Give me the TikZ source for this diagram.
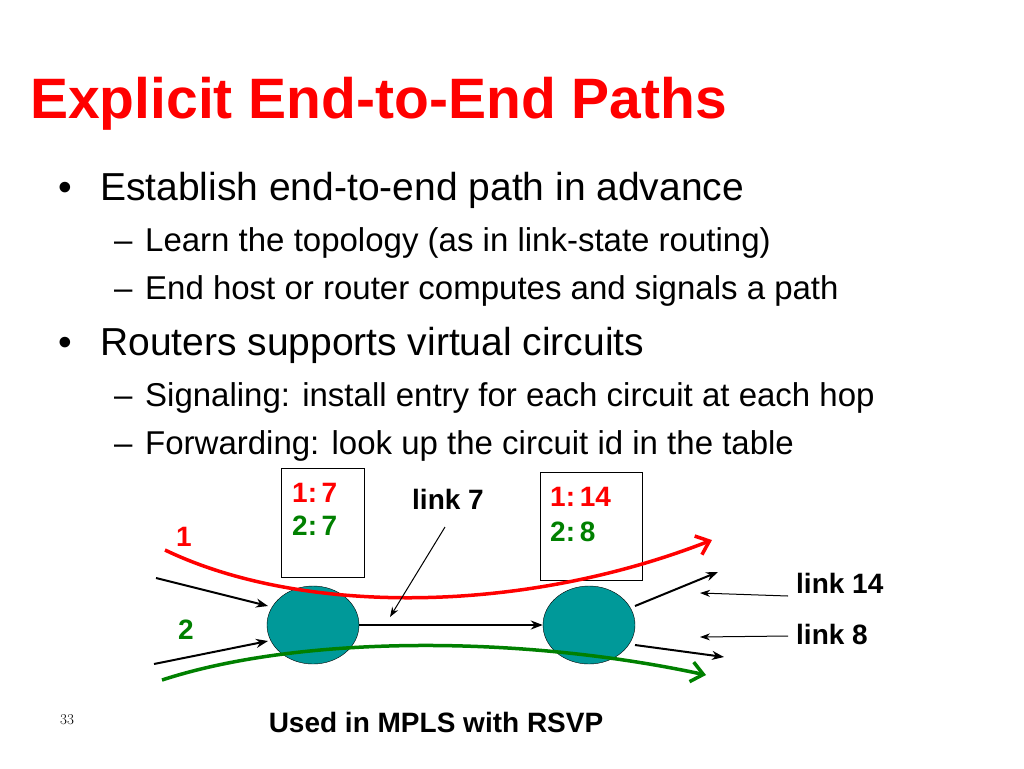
\documentclass[tikz,border=0pt]{standalone}
\usepackage{fontspec}
\setmainfont{Liberation Sans}
\usetikzlibrary{arrows.meta,shapes.geometric}
\definecolor{titlered}{RGB}{255,0,0}
\definecolor{vcgreen}{RGB}{0,128,0}
\definecolor{routerteal}{RGB}{0,153,153}
\begin{document}
\begin{tikzpicture}[x=1pt,y=-1pt,
    bulletA/.style={anchor=base west,font=\fontsize{39}{44}\selectfont},
    bulletB/.style={anchor=base west,font=\fontsize{33}{38}\selectfont},
    lbl/.style={anchor=base west,font=\fontsize{28}{32}\selectfont\bfseries},
    router/.style={ellipse,draw=black,fill=routerteal,minimum width=92pt,minimum height=78pt},
    tablebox/.style={draw=black,line width=1pt},
    link/.style={-{Stealth[length=12pt,width=9pt]},line width=2pt},
    thinlink/.style={-{Stealth[length=10pt,width=7pt]},line width=1pt}]
  \useasboundingbox (0,0) rectangle (1024,768);

  \node[anchor=base west,text=titlered,inner sep=0pt,font=\fontsize{57}{62}\selectfont\bfseries] (title) at (30,118) {Explicit End-to-End Paths};

  % bullets
  \node[bulletA,inner sep=0pt] (b1m) at (58,200) {\textbullet};
  \node[bulletA,inner sep=0pt] (b1) at (100,200) {Establish end-to-end path in advance};
  \node[bulletB,inner sep=0pt] (s1m) at (114,251) {--};
  \node[bulletB,inner sep=0pt] (s1) at (145,251) {Learn the topology (as in link-state routing)};
  \node[bulletB,inner sep=0pt] (s2m) at (114,299) {--};
  \node[bulletB,inner sep=0pt] (s2) at (145,299) {End host or router computes and signals a path};
  \node[bulletA,inner sep=0pt] (b2m) at (58,355) {\textbullet};
  \node[bulletA,inner sep=0pt] (b2) at (100,355) {Routers supports virtual circuits};
  \node[bulletB,inner sep=0pt] (s3m) at (114,406) {--};
  \node[bulletB,inner sep=0pt] (s3) at (145,406) {Signaling: install entry for each circuit at each hop};
  \node[bulletB,inner sep=0pt] (s4m) at (114,454) {--};
  \node[bulletB,inner sep=0pt] (s4) at (145,454) {Forwarding: look up the circuit id in the table};

  % tables
  \draw[tablebox] (281,468) rectangle (364,577);
  \draw[tablebox] (540,472) rectangle (642,580);
  \node[lbl,text=titlered,inner sep=0pt] (t11) at (292,502) {1:\,7};
  \node[lbl,text=vcgreen,inner sep=0pt] (t12) at (292,535) {2:\,7};
  \node[lbl,text=titlered,inner sep=0pt] (t21) at (550,506) {1:\,14};
  \node[lbl,text=vcgreen,inner sep=0pt] (t22) at (550,541) {2:\,8};

  % routers
  \node[router] (r1) at (313,625) {};
  \node[router] (r2) at (589,625) {};

  % links
  \coordinate (in1) at (156,578);
  \coordinate (in2) at (154,664);
  \coordinate (out1) at (718,572);
  \coordinate (out2) at (724,657);
  \draw[link] (in1) -- (268,606);
  \draw[link] (in2) -- (268,641);
  \draw[link] (r1.east) -- (r2.west);
  \draw[link] (635,606) -- (out1);
  \draw[link] (635,645) -- (out2);

  % paths
  \draw[titlered,line width=3.5pt,-{Straight Barb[length=12pt,width=20pt]}] (165,550) .. controls (300,615) and (520,615) .. (712,540);
  \draw[vcgreen,line width=3.5pt,-{Straight Barb[length=12pt,width=20pt]}] (162,680) .. controls (300,635) and (520,635) .. (706,675);

  % labels
  \node[lbl,text=titlered,inner sep=0pt] (p1) at (176,546) {1};
  \node[lbl,text=vcgreen,inner sep=0pt] (p2) at (178,639) {2};
  \node[lbl,inner sep=0pt] (l7) at (412,509) {link 7};
  \node[lbl,inner sep=0pt] (l14) at (796,593) {link 14};
  \node[lbl,inner sep=0pt] (l8) at (796,644) {link 8};
  \draw[thinlink] (445,527) -- (390,617);
  \draw[thinlink] (788,596) -- (700,593);
  \draw[thinlink] (788,636) -- (700,637);

  \node[anchor=base west,inner sep=0pt,font=\fontfamily{lmr}\selectfont\fontsize{15}{17}\selectfont] (pg) at (60,724) {33};
  \node[lbl,anchor=base,inner sep=0pt] (foot) at (436,732) {Used in MPLS with RSVP};
\end{tikzpicture}
\end{document}
